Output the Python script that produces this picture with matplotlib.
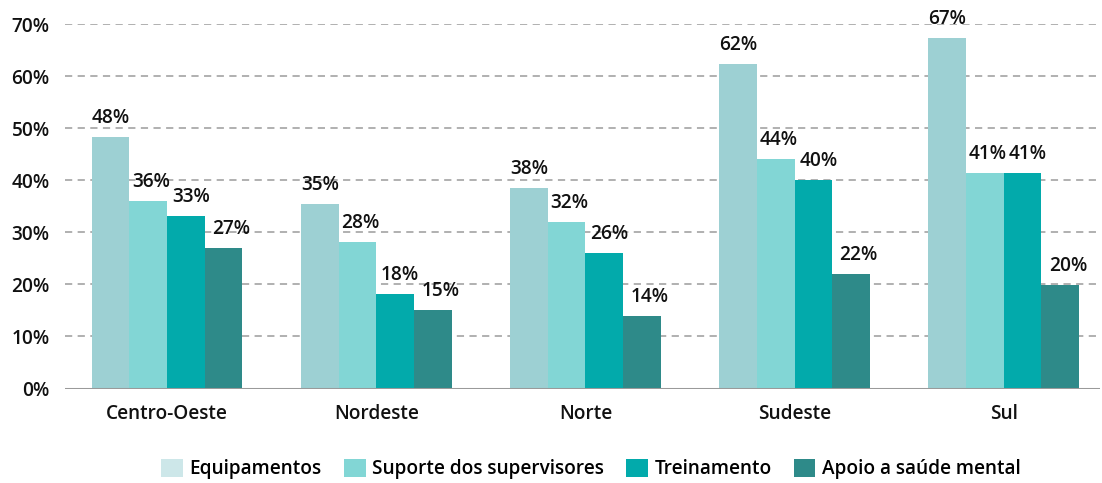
import matplotlib
matplotlib.use("Agg")
import matplotlib.pyplot as plt
import numpy as np
from matplotlib.patches import Patch

regions = ["Centro-Oeste", "Nordeste", "Norte", "Sudeste", "Sul"]
series_names = ["Equipamentos", "Suporte dos supervisores", "Treinamento", "Apoio a saúde mental"]
equipamentos = [48.3, 35.4, 38.5, 62.3, 67.3]
suporte = [36.0, 28.1, 32.0, 44.1, 41.4]
treinamento = [33.1, 18.1, 26.0, 40.1, 41.4]
apoio = [27.0, 15.1, 14.0, 22.0, 19.9]
labels = [
    ["48%", "35%", "38%", "62%", "67%"],
    ["36%", "28%", "32%", "44%", "41%"],
    ["33%", "18%", "26%", "40%", "41%"],
    ["27%", "15%", "14%", "22%", "20%"],
]
yticks = [0, 10, 20, 30, 40, 50, 60, 70]
ytick_labels = ["0%", "10%", "20%", "30%", "40%", "50%", "60%", "70%"]

colors = ["#9dd0d3", "#82d6d5", "#02aaab", "#2e8a89"]
legend_colors = ["#cde7e9", "#82d6d5", "#02aaab", "#2e8a89"]

plt.rcParams['font.family'] = ['Open Sans', 'DejaVu Sans']

W, H = 1102, 483
fig = plt.figure(figsize=(W / 100, H / 100), dpi=100)
ax = fig.add_axes([65 / W, (H - 388.5) / H, (1100 - 65) / W, (388.5 - 24) / H])

x = np.arange(len(regions))
bw = 0.18
data = [equipamentos, suporte, treinamento, apoio]
for i, vals in enumerate(data):
    pos = x + (i - 1.5) * bw
    ax.bar(pos, vals, width=bw, color=colors[i], zorder=3, linewidth=0)
    for p, v, lab in zip(pos, vals, labels[i]):
        ax.text(p + 0.012 * i, v + 1.7, lab, ha="center", va="bottom", fontsize=13.7,
                fontweight="semibold", color="#111111", zorder=4)

ax.set_xlim(-0.488, 4.46)
ax.set_ylim(0, 70)
ax.set_yticks(yticks)
ax.set_yticklabels(ytick_labels)
ax.set_xticks(x)
ax.set_xticklabels(regions)
ax.tick_params(axis="both", length=0, labelsize=13.7, colors="#111111")
ax.tick_params(axis="y", pad=11)
ax.tick_params(axis="x", pad=11)
for lab in ax.get_xticklabels() + ax.get_yticklabels():
    lab.set_fontweight("semibold")

for yv in yticks[1:]:
    ax.axhline(yv, color="#aaaaaa", linestyle=(0, (4, 3)), linewidth=1.3, zorder=1)
ax.axhline(0, color="#9a9a9a", linewidth=2.2, zorder=5)

for s in ax.spines.values():
    s.set_visible(False)

handles = [Patch(facecolor=c, edgecolor="none") for c in legend_colors]
fig.legend(handles, series_names, loc="center", bbox_to_anchor=(591 / W, 1 - 469 / H),
           ncol=4, frameon=False, handlelength=1.15, handleheight=1.15,
           handletextpad=0.35, columnspacing=1.15,
           prop={"weight": "semibold", "size": 13.7})

fig.savefig("out.png", dpi=100)
